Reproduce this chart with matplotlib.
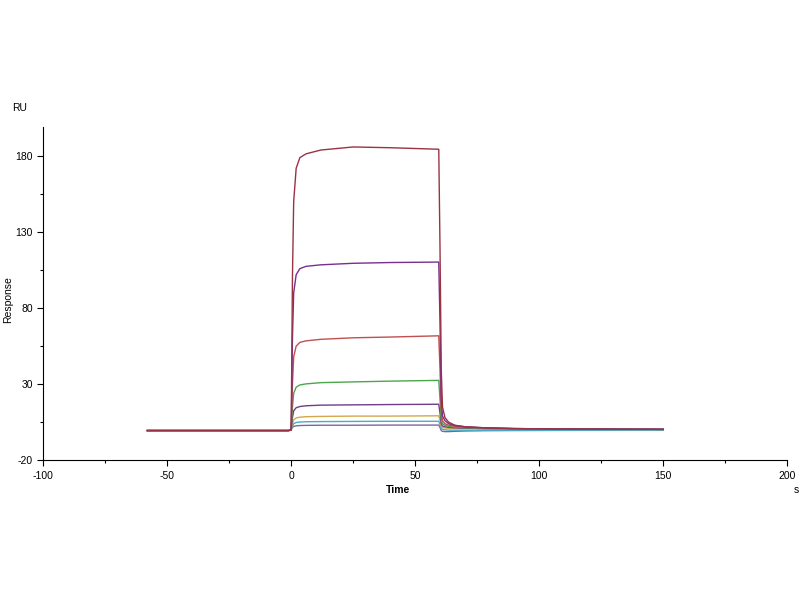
import matplotlib
matplotlib.use("Agg")
import matplotlib.pyplot as plt
from matplotlib.ticker import MultipleLocator

plt.rcParams['font.family'] = ['Liberation Sans', 'DejaVu Sans']
plt.rcParams['axes.unicode_minus'] = False

# sampled times (s) shared by all sensorgrams
time = [-58, -1, 0, 0.5, 1, 2, 3.5, 6, 12, 25, 40, 59.5,
        60, 60.5, 61, 62, 63.5, 66, 70, 78, 90, 110, 150]

# responses (RU), highest concentration first
resp_1 = [-0.5, -0.5, 0, 100, 150, 172, 179, 181.5, 184, 186, 185.5, 184.5,
          120, 40, 15, 8, 5, 3, 2, 1.3, 0.8, 0.5, 0.3]
resp_2 = [-0.5, -0.5, 0, 60, 90, 102, 106, 107.5, 108.5, 109.5, 110, 110.3,
          70, 20, 9, 6, 4, 2.8, 2, 1.3, 0.8, 0.5, 0.3]
resp_3 = [-0.5, -0.5, 0, 30, 48, 55, 57.5, 58.5, 59.5, 60.5, 61, 61.8,
          40, 12, 6, 4, 3, 2.3, 1.7, 1.2, 0.8, 0.5, 0.3]
resp_4 = [-0.5, -0.5, 0, 15, 24, 28, 29.5, 30.2, 31, 31.5, 32, 32.5,
          20, 7, 4, 3, 2.2, 1.8, 1.4, 1, 0.7, 0.5, 0.3]
resp_5 = [-0.5, -0.5, 0, 8, 12.5, 14.5, 15.3, 15.8, 16.2, 16.4, 16.6, 16.8,
          11, 4, 2.5, 2, 1.6, 1.3, 1.1, 0.8, 0.6, 0.4, 0.3]
resp_6 = [-0.5, -0.5, 0, 4, 6.5, 7.8, 8.3, 8.6, 8.8, 9, 9, 9.2,
          6, 2.5, 1.5, 1.2, 1, 0.8, 0.7, 0.5, 0.4, 0.3, 0.2]
resp_7 = [-0.5, -0.5, 0, 2.5, 4, 4.8, 5.1, 5.3, 5.4, 5.5, 5.6, 5.6,
          3.5, 1, 0.3, 0, -0.2, -0.3, -0.3, -0.3, -0.3, -0.3, -0.3]
resp_8 = [-0.5, -0.5, 0, 1.5, 2.2, 2.6, 2.8, 2.9, 3, 3, 3.1, 3.1,
          1.5, -0.5, -1, -1.2, -1.2, -1, -0.8, -0.6, -0.5, -0.4, -0.3]

series = [resp_8, resp_7, resp_6, resp_5, resp_4, resp_3, resp_2, resp_1]
colors = ['#8064A2', '#4BACC6', '#D4A84A', '#6F3D8A',
          '#4CA64C', '#C0504D', '#7A2E8E', '#993344']

fig = plt.figure(figsize=(8, 6), dpi=100)
ax = fig.add_axes([0.054, 0.233, 0.93, 0.555])

for r, c in zip(series, colors):
    ax.plot(time, r, color=c, lw=1.0)

ax.set_xlim(-100, 200)
ax.set_ylim(-20, 199)
ax.xaxis.set_major_locator(MultipleLocator(50))
ax.xaxis.set_minor_locator(MultipleLocator(25))
ax.set_yticks([-20, 30, 80, 130, 180])
ax.set_yticks([5, 55, 105, 155], minor=True)
ax.tick_params(which='both', direction='out', labelsize=7.5, length=4, width=0.8)
ax.tick_params(which='minor', length=2)
ax.tick_params(axis='x', pad=4)
for s in ['top', 'right']:
    ax.spines[s].set_visible(False)

fig.text(0.01, 0.5, 'Response', rotation=90, va='center', ha='center', fontsize=7.5)
fig.text(0.025, 0.82, 'RU', ha='center', va='center', fontsize=7.5)
fig.text(0.4975, 0.183, 'Time', ha='center', va='center', fontsize=7.5, fontweight='bold')
fig.text(0.995, 0.183, 's', ha='center', va='center', fontsize=7.5)

fig.savefig('out.png', dpi=100)
